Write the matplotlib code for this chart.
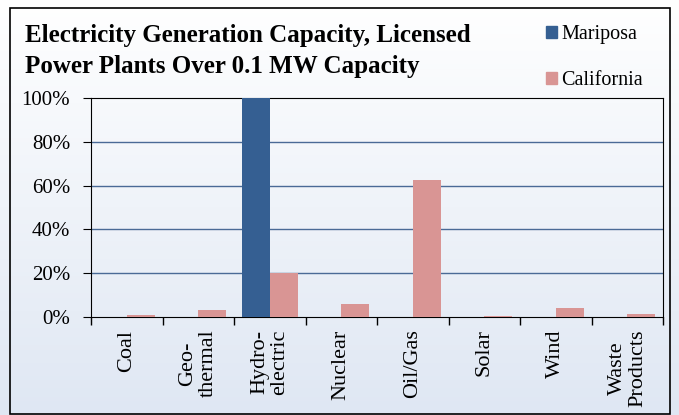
import numpy as np
import matplotlib.pyplot as plt
from matplotlib.patches import Rectangle, Patch
from matplotlib.ticker import PercentFormatter

categories = ["Coal", "Geo-\nthermal", "Hydro-\nelectric", "Nuclear", "Oil/Gas",
              "Solar", "Wind", "Waste\nProducts"]
mariposa = [0.0, 0.0, 1.00, 0.0, 0.0, 0.0, 0.0, 0.0]
california = [0.008, 0.034, 0.20, 0.060, 0.625, 0.003, 0.039, 0.014]

blue = "#355f92"
pink = "#d99594"
grid_col = "#4a6a96"

plt.rcParams["font.family"] = ["Liberation Serif", "DejaVu Serif"]

fig = plt.figure(figsize=(6.79, 4.15), dpi=100)

# gradient background: white at top to pale blue at bottom
bg = fig.add_axes([0, 0, 1, 1], zorder=-10)
grad = np.linspace(0, 1, 256).reshape(-1, 1)
top = np.array([1.0, 1.0, 1.0])
bottom = np.array([0xdf, 0xe7, 0xf3]) / 255
img = top + (bottom - top) * grad[..., None]
bg.imshow(img, aspect="auto", extent=[0, 1, 0, 1], origin="upper")
bg.axis("off")
fig.add_artist(Rectangle((10 / 679, 1 / 415), 660 / 679, 406 / 415,
                         transform=fig.transFigure, fill=False,
                         edgecolor="black", lw=1.2))

ax = fig.add_axes([91 / 679, 1 - 317 / 415, 572 / 679, 219 / 415])
ax.set_facecolor("none")

x = np.arange(len(categories))
w = 0.39
ax.bar(x - w / 2, mariposa, width=w, color=blue, label="Mariposa", zorder=3)
ax.bar(x + w / 2, california, width=w, color=pink, label="California", zorder=3)

ax.set_xlim(-0.5, len(categories) - 0.5)
ax.set_ylim(0, 1)
ax.set_yticks(np.arange(0, 1.01, 0.2))
ax.yaxis.set_major_formatter(PercentFormatter(1.0, decimals=0))
ax.tick_params(axis="y", labelsize=15, direction="out", length=6, pad=9)
for yv in [0.2, 0.4, 0.6, 0.8]:
    ax.axhline(yv, color=grid_col, lw=1.0, zorder=1)

ax.set_xticks(x)
ax.set_xticklabels(categories, rotation=90, fontsize=16, va="top", ha="center",
                   linespacing=1.1)
ax.set_xticks(np.arange(-0.5, len(categories)), minor=True)
ax.tick_params(axis="x", which="major", length=0, pad=9)
ax.tick_params(axis="x", which="minor", length=6, direction="out", width=1)

for s in ax.spines.values():
    s.set_color("black")

fig.text(25 / 679, 1 - 24 / 415, "Electricity Generation Capacity, Licensed\n"
         "Power Plants Over 0.1 MW Capacity", fontsize=18, fontweight="bold",
         va="top", ha="left", linespacing=1.45)

handles = [Patch(color=blue, label="Mariposa"), Patch(color=pink, label="California")]
fig.legend(handles=handles, loc="upper left", bbox_to_anchor=(536 / 679, 1 - 15 / 415),
           frameon=False, fontsize=14.5, handlelength=0.55, handleheight=0.55,
           handletextpad=0.2, labelspacing=1.35, borderpad=0)

fig.savefig("out.png", dpi=100)
